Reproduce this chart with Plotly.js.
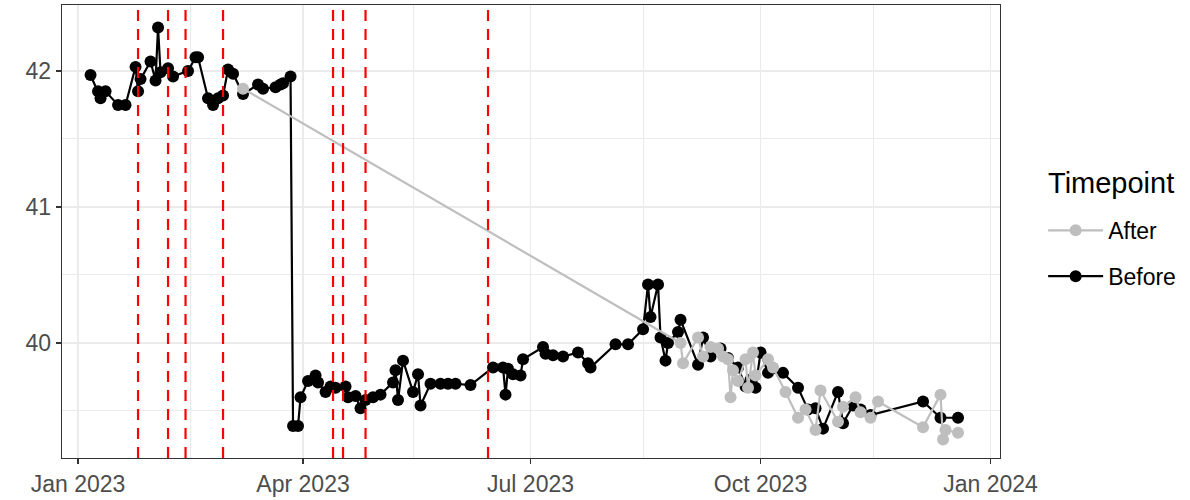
<!DOCTYPE html>
<html>
<head>
<meta charset="utf-8">
<script src="https://cdn.plot.ly/plotly-3.0.1.min.js"></script>
<style>html,body{margin:0;padding:0;background:#fff;}#chart{width:1190px;height:500px;}</style>
</head>
<body>
<div id="chart"></div>
<script>
// Before (black) series
const beforeDates = [
 "2023-01-06","2023-01-09","2023-01-10","2023-01-12","2023-01-17","2023-01-20","2023-01-24","2023-01-25","2023-01-26","2023-01-30",
 "2023-02-01","2023-02-02","2023-02-03","2023-02-06","2023-02-08","2023-02-14","2023-02-17","2023-02-18","2023-02-22","2023-02-24",
 "2023-02-26","2023-02-28","2023-03-02","2023-03-04","2023-03-08","2023-03-14","2023-03-16","2023-03-21","2023-03-23","2023-03-24",
 "2023-03-27","2023-03-28","2023-03-30","2023-03-31","2023-04-03","2023-04-06","2023-04-07","2023-04-10","2023-04-12","2023-04-14",
 "2023-04-18","2023-04-19","2023-04-22","2023-04-24","2023-04-26","2023-04-29","2023-05-02","2023-05-07","2023-05-08","2023-05-09",
 "2023-05-11","2023-05-15","2023-05-17","2023-05-18","2023-05-22","2023-05-26","2023-05-29","2023-06-01","2023-06-07","2023-06-16",
 "2023-06-20","2023-06-21","2023-06-22","2023-06-24","2023-06-27","2023-06-28","2023-07-06","2023-07-07","2023-07-10","2023-07-14",
 "2023-07-20","2023-07-24","2023-07-25","2023-08-04","2023-08-09","2023-08-15","2023-08-17","2023-08-18","2023-08-21","2023-08-22",
 "2023-08-24","2023-08-25","2023-08-29","2023-08-30","2023-09-06","2023-09-08","2023-09-11","2023-09-15","2023-09-18","2023-09-22",
 "2023-09-25","2023-09-27","2023-09-29","2023-10-01","2023-10-04","2023-10-10","2023-10-16","2023-10-20","2023-10-23","2023-10-26",
 "2023-11-01","2023-11-03","2023-11-07","2023-11-10","2023-11-14","2023-12-05","2023-12-12","2023-12-19"
];
const beforeValues = [
 41.97,41.85,41.80,41.85,41.75,41.75,42.03,41.85,41.94,42.07,
 41.93,42.32,41.99,42.02,41.96,42.00,42.10,42.10,41.80,41.75,
 41.80,41.82,42.01,41.98,41.83,41.90,41.87,41.88,41.90,41.91,
 41.96,39.39,39.39,39.60,39.72,39.76,39.71,39.64,39.68,39.67,
 39.68,39.60,39.61,39.52,39.58,39.60,39.62,39.71,39.80,39.58,
 39.87,39.64,39.77,39.54,39.70,39.70,39.70,39.70,39.69,39.82,
 39.82,39.62,39.81,39.77,39.76,39.88,39.97,39.92,39.91,39.90,
 39.93,39.85,39.82,39.99,39.99,40.10,40.43,40.19,40.43,40.04,
 39.87,40.00,40.08,40.17,39.84,40.04,39.90,39.96,39.89,39.82,
 39.68,39.73,39.67,39.93,39.78,39.78,39.67,39.51,39.52,39.37,
 39.64,39.41,39.54,39.51,39.47,39.57,39.45,39.45
];
// After (grey) series
const afterDates = [
 "2023-03-08","2023-08-30","2023-08-31","2023-09-06","2023-09-08","2023-09-11","2023-09-14","2023-09-16","2023-09-18","2023-09-19",
 "2023-09-20","2023-09-22","2023-09-25","2023-09-26","2023-09-28","2023-09-29","2023-10-04","2023-10-06","2023-10-11","2023-10-16",
 "2023-10-19","2023-10-23","2023-10-25","2023-11-01","2023-11-03","2023-11-08","2023-11-10","2023-11-14","2023-11-17","2023-12-05",
 "2023-12-12","2023-12-13","2023-12-14","2023-12-19"
];
const afterValues = [
 41.87,40.00,39.85,40.04,39.90,39.97,39.96,39.90,39.88,39.60,
 39.80,39.72,39.88,39.67,39.93,39.76,39.88,39.82,39.64,39.45,
 39.51,39.36,39.65,39.42,39.53,39.60,39.49,39.45,39.57,39.38,
 39.62,39.29,39.36,39.34
];
// Event dates (red dashed lines)
const eventDates = ["2023-01-25","2023-02-06","2023-02-13","2023-02-28","2023-04-13","2023-04-17","2023-04-26","2023-06-14"];
const xTickStart = "2023-01-01";
const yTickVals = [40, 41, 42];
const seriesNames = ["Before", "After"];
const legendTitle = "Timepoint";

const traces = [
  {x: beforeDates, y: beforeValues, name: seriesNames[0], type: 'scatter', mode: 'lines+markers',
   line: {color: '#000000', width: 2.2}, marker: {color: '#000000', size: 12},
   legendgroup: 'b', legendrank: 2, hoverinfo: 'x+y'},
  {x: afterDates, y: afterValues, name: seriesNames[1], type: 'scatter', mode: 'lines+markers',
   line: {color: '#BEBEBE', width: 2.2}, marker: {color: '#BEBEBE', size: 12},
   legendgroup: 'a', legendrank: 1, hoverinfo: 'x+y'}
];

const shapes = eventDates.map(d => ({
  type: 'line', xref: 'x', yref: 'paper', x0: d, x1: d, y0: 0, y1: 1, layer: 'above',
  line: {color: '#FF0000', width: 2.2, dash: '11px,8px'}
}));

const layout = {
  width: 1190, height: 500,
  margin: {l: 62, r: 190, t: 5, b: 42},
  paper_bgcolor: '#ffffff', plot_bgcolor: '#ffffff',
  font: {family: 'Liberation Sans, Arial, sans-serif', color: '#000000'},
  showlegend: true,
  legend: {
    x: 1.046, xanchor: 'left', y: 0.550, yanchor: 'top',
    traceorder: 'grouped', tracegroupgap: 13,
    font: {size: 23, color: '#000000'},
    itemwidth: 55
  },
  annotations: [{
    text: legendTitle, xref: 'paper', yref: 'paper', x: 1.049, y: 0.607,
    xanchor: 'left', yanchor: 'middle', showarrow: false,
    font: {size: 29, color: '#000000'}
  }],
  xaxis: {
    type: 'date',
    range: ['2022-12-25 14:00', '2024-01-04 19:00'],
    tick0: xTickStart, dtick: 'M3', tickformat: '%b %Y',
    ticks: 'outside', ticklen: 5, tickwidth: 1.3, tickcolor: '#333333',
    tickfont: {size: 23, color: '#4D4D4D'},
    showgrid: true, gridcolor: '#EBEBEB', gridwidth: 1.8,
    minor: {tick0: '2023-02-15', dtick: 'M3', showgrid: true, gridcolor: '#EBEBEB', gridwidth: 1, ticks: ''},
    showline: true, linecolor: '#333333', linewidth: 1.3, mirror: true,
    zeroline: false
  },
  yaxis: {
    range: [39.154, 42.485],
    tickmode: 'array', tickvals: yTickVals,
    ticks: 'outside', ticklen: 5, tickwidth: 1.3, tickcolor: '#333333',
    tickfont: {size: 23, color: '#4D4D4D'},
    showgrid: true, gridcolor: '#EBEBEB', gridwidth: 1.8,
    minor: {tick0: 39.5, dtick: 1, showgrid: true, gridcolor: '#EBEBEB', gridwidth: 1, ticks: ''},
    showline: true, linecolor: '#333333', linewidth: 1.3, mirror: true,
    zeroline: false
  },
  shapes: shapes
};

Plotly.newPlot('chart', traces, layout, {displayModeBar: false, staticPlot: true});
</script>
</body>
</html>
